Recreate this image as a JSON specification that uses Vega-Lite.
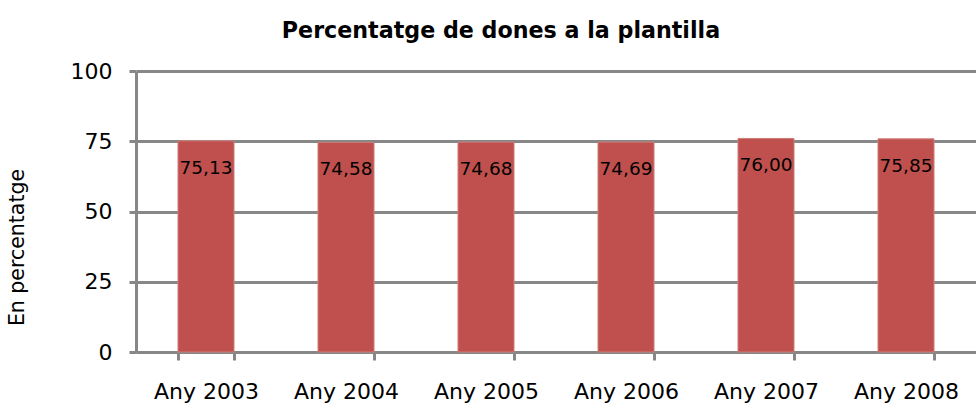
{
  "$schema": "https://vega.github.io/schema/vega-lite/v6.json",
  "autosize": {"type": "none"},
  "width": 840,
  "height": 281,
  "padding": {"left": 136, "top": 71, "right": 0, "bottom": 51},
  "background": "white",
  "config": {"view": {"stroke": null}, "font": "DejaVu Sans"},
  "title": {
    "text": "Percentatge de dones a la plantilla",
    "font": "DejaVu Sans",
    "fontSize": 22.2,
    "fontWeight": "bold",
    "color": "black",
    "anchor": "middle",
    "baseline": "alphabetic",
    "offset": 0,
    "dx": -55
  },
  "data": {
    "values": [
      {"any": "Any 2003", "valor": 75.13, "etiqueta": "75,13"},
      {"any": "Any 2004", "valor": 74.58, "etiqueta": "74,58"},
      {"any": "Any 2005", "valor": 74.68, "etiqueta": "74,68"},
      {"any": "Any 2006", "valor": 74.69, "etiqueta": "74,69"},
      {"any": "Any 2007", "valor": 76.0, "etiqueta": "76,00"},
      {"any": "Any 2008", "valor": 75.85, "etiqueta": "75,85"}
    ]
  },
  "encoding": {
    "x": {
      "field": "any",
      "type": "nominal",
      "sort": null,
      "scale": {"paddingInner": 0.6, "paddingOuter": 0.3},
      "axis": {
        "title": null,
        "labelAngle": 0,
        "labelFontSize": 22,
        "labelColor": "black",
        "labelPadding": 21,
        "tickBand": "extent",
        "tickSize": 8,
        "tickWidth": 3,
        "tickColor": "#878787",
        "domainColor": "#878787",
        "domainWidth": 3,
        "grid": false
      }
    },
    "y": {
      "field": "valor",
      "type": "quantitative",
      "scale": {"domain": [0, 100], "nice": false},
      "axis": {
        "title": "En percentatge",
        "titleFontSize": 20.5,
        "titleFontWeight": "normal",
        "titleColor": "black",
        "titleBaseline": "alphabetic",
        "titleX": -113,
        "titleY": 176,
        "values": [0, 25, 50, 75, 100],
        "labelFontSize": 22,
        "labelColor": "black",
        "labelPadding": 17,
        "tickSize": 7,
        "tickWidth": 3,
        "tickColor": "#878787",
        "domainColor": "#878787",
        "domainWidth": 3,
        "grid": true,
        "gridColor": "#878787",
        "gridWidth": 3
      }
    }
  },
  "layer": [
    {
      "mark": {"type": "bar", "color": "#C0504D", "stroke": "#D07C7A", "strokeWidth": 1}
    },
    {
      "mark": {"type": "text", "baseline": "alphabetic", "dy": 33, "fontSize": 18.5, "color": "black"},
      "encoding": {"text": {"field": "etiqueta"}}
    }
  ]
}
